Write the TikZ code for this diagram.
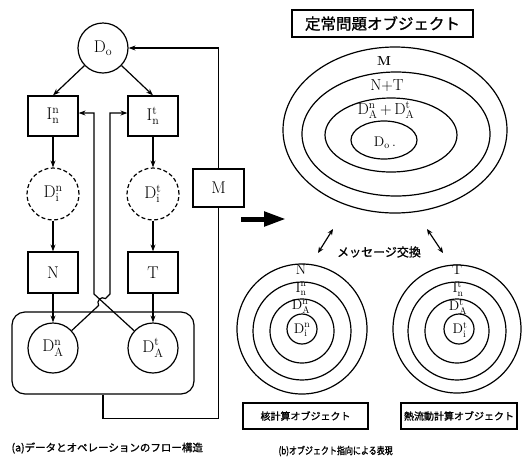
\documentclass[tikz,border=0pt]{standalone}
\usepackage{amsmath}
\usepackage{fontspec}
\usetikzlibrary{arrows.meta}
\newfontfamily\jp[FakeBold=1.2]{Noto Sans CJK JP}
\newcommand\DSS[3]{#1$^{\text{#2}}_{\text{#3}}$}
\newcommand\DSo[2]{#1$_{\text{#2}}$}
\begin{document}
\begin{tikzpicture}[x=1pt,y=-1pt, line width=1.2pt,
  every node/.style={font=\fontsize{17}{18}\selectfont},
  box/.style={draw, minimum width=50pt, minimum height=40pt, inner sep=0pt},
  circ/.style={draw, circle, minimum size=50pt, inner sep=0pt},
  dcirc/.style={circ, dash pattern=on 4pt off 2.5pt},
  arr/.style={-{Stealth[length=7pt,width=5pt]}},
  darr/.style={{Stealth[length=6pt,width=5pt]}-{Stealth[length=6pt,width=5pt]}},
  jlab/.style={font=\jp\fontsize{10}{12}\selectfont},
  lab/.style={font=\fontsize{14}{15}\selectfont, inner sep=0pt},
  labbox/.style={draw, inner sep=0pt, minimum height=26pt},
]
\useasboundingbox (0,0) rectangle (522,456);

% ---------- (a) flow structure ----------
\node[circ] (D0) at (103,48) {\DSo{D}{o}};
\node[box] (Inn) at (53,116) {\DSS{I}{n}{n}};
\node[box] (Int) at (153,116) {\DSS{I}{t}{n}};
\node[dcirc, minimum size=52pt] (Din) at (53,194) {\DSS{D}{n}{i}};
\node[dcirc, minimum size=52pt] (Dit) at (153,194) {\DSS{D}{t}{i}};
\node[box, minimum height=41pt] (N) at (53,272.5) {N};
\node[box, minimum height=41pt] (T) at (153,272.5) {T};
\node[draw, rounded corners=13pt, minimum width=182pt, minimum height=82pt, inner sep=0pt] (G) at (103,353) {};
\node[circ] (DAn) at (53,348) {\DSS{D}{n}{A}};
\node[circ] (DAt) at (153,348) {\DSS{D}{t}{A}};
\node[box, minimum width=51pt, minimum height=38pt] (M) at (218.5,188) {M};

\draw[arr] (D0) -- (Inn.north);
\draw[arr] (D0) -- (Int.north);
\draw[arr] (Inn) -- (Din);
\draw[arr] (Int) -- (Dit);
\draw[arr] (Din) -- (N);
\draw[arr] (Dit) -- (T);
\draw[arr] (N) -- (DAn);
\draw[arr] (T) -- (DAt);
\draw[arr] (M.north) |- (D0.east);
\draw (G.south) -- ++(0,24) -| (M.south);

\coordinate (c1) at (94,294);
\coordinate (a1) at (94,113);
\coordinate (c2) at (110,294);
\coordinate (a2) at (110,113);
\coordinate (h1) at (105.5,298.6);
\coordinate (h2) at (98.6,305.5);
\draw[arr] (DAt) -- (c1) -- (a1) -- (Inn.east |- a1);
\draw[arr] (DAn) -- (h2) .. controls (96,301) and (101,295.5) .. (h1) -- (c2) -- (a2) -- (Int.west |- a2);

\node[font=\jp\fontsize{10.5}{12}\selectfont, anchor=west, inner sep=0pt] (capa) at (11,448) {(a)データとオペレーションのフロー構造};

% ---------- big arrow ----------
\coordinate (b1) at (241,219);
\coordinate (b2) at (286,219);
\draw[line width=5pt, -{Triangle[length=22pt,width=14pt]}] (b1) -- (b2);

% ---------- (b) object representation ----------
\node[draw, font=\jp\fontsize{15.5}{16}\selectfont, minimum width=181pt, minimum height=27pt, inner sep=0pt] (title) at (382.5,23.5) {定常問題オブジェクト};

\draw (395,130) ellipse [x radius=112pt, y radius=83pt];
\draw (396,134) ellipse [x radius=94pt, y radius=62pt];
\draw (391,135) ellipse [x radius=66pt, y radius=37pt];
\draw (384,140) ellipse [x radius=33pt, y radius=19pt];
\node[font=\fontsize{13}{13}\selectfont\bfseries, inner sep=0pt] (lM) at (384,61) {M};
\node[font=\fontsize{16}{17}\selectfont, inner sep=0pt] (lNT) at (387,86) {N+T};
\node[font=\fontsize{16}{17}\selectfont, inner sep=0pt] (lDA) at (386,110) {\DSS{D}{n}{A}\,+\,\DSS{D}{t}{A}};
\node[lab] (lD0) at (385,143) {\DSo{D}{o}\,.};

\coordinate (m1) at (318,253);
\coordinate (m2) at (333,229);
\coordinate (m3) at (427,229);
\coordinate (m4) at (443,253);
\draw[darr] (m1) -- (m2);
\draw[darr] (m3) -- (m4);
\node[font=\jp\fontsize{12}{12}\selectfont, inner sep=0pt] (msg) at (379,252) {メッセージ交換};

% left concentric
\draw (302,329) circle [radius=65pt];
\draw (302,331) circle [radius=49pt];
\draw (302,331) circle [radius=32pt];
\draw (302,329) circle [radius=15pt];
\node[lab] (nN) at (301,270) {N};
\node[lab] (nI) at (301,289) {\DSS{I}{n}{n}};
\node[lab] (nDA) at (301,307) {\DSS{D}{n}{A}};
\node[lab] (nDi) at (302,330) {\DSS{D}{n}{i}};

% right concentric
\draw (457,329) circle [radius=64pt];
\draw (457,331) circle [radius=49pt];
\draw (457,331) circle [radius=32pt];
\draw (459,329) circle [radius=15pt];
\node[lab] (tT) at (457,270) {T};
\node[lab] (tI) at (458,289) {\DSS{I}{t}{n}};
\node[lab] (tDA) at (458,307) {\DSS{D}{t}{A}};
\node[lab] (tDi) at (460,330) {\DSS{D}{t}{i}};

\node[labbox, jlab, minimum width=125pt] (bN) at (305.5,416) {核計算オブジェクト};
\node[labbox, jlab, minimum width=116pt] (bT) at (459,416) {熱流動計算オブジェクト};

\node[font=\jp\fontsize{10}{12}\selectfont, anchor=west, inner sep=0pt] (capb) at (278,451) {\scalebox{0.8}[1]{(b)オブジェクト指向による表現}};
\end{tikzpicture}
\end{document}
